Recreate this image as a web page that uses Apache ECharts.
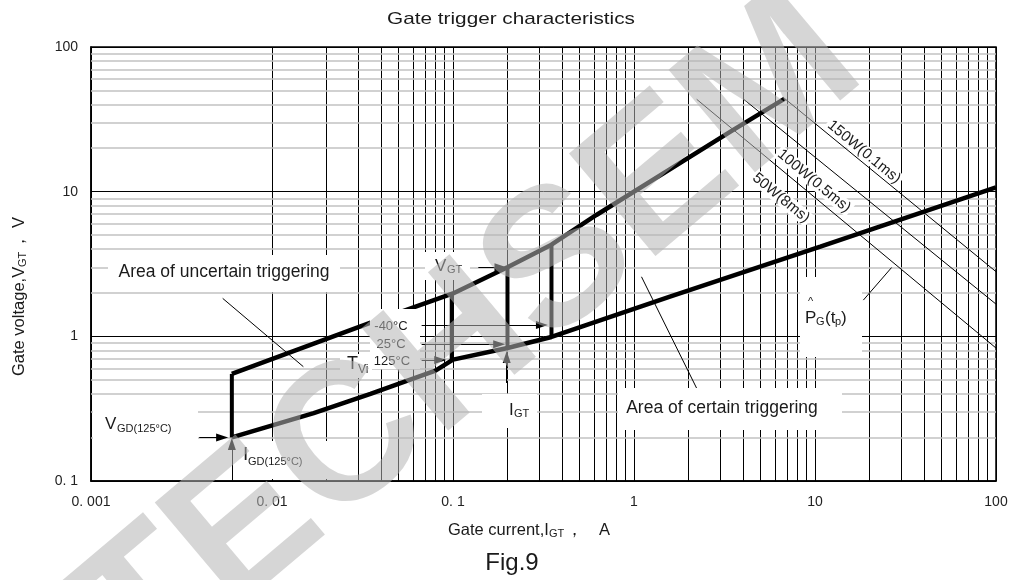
<!DOCTYPE html>
<html><head><meta charset="utf-8">
<script src="https://cdn.jsdelivr.net/npm/echarts@6/dist/echarts.min.js"></script>
<style>html,body{margin:0;padding:0;background:#fff}#c{width:1015px;height:580px}</style>
</head><body><div id="c"></div>
<script>
// ---- tick labels ----
const xTickLabels = ['0. 001','0. 01','0. 1','1','10','100'];
const yTickLabels = ['0. 1','1','10','100'];
const minorMult = [2,3,4,5,6,7,8,9];
const xDecades = [0.001,0.01,0.1,1,10];
const yDecades = [0.1,1,10];

// ---- curves (I_GT [A], V_GT [V]) ----
const lowerBoundary = [[0.006,0.2],[0.017,0.295],[0.035,0.40],[0.08,0.58],[0.1,0.69],[0.2,0.83],[0.35,0.99],[1.58,1.88],[10.7,4.17],[100,10.7]];
const upperBoundary = [[0.006,0.55],[0.036,1.26],[0.1,1.98],[0.2,3.0],[0.35,4.3],[0.62,6.9],[3.5,26.5],[6.8,44]];
const igdLine = [[0.006,0.2],[0.006,0.55]];
const igt125 = [[0.0984,0.686],[0.0984,1.98]];
const igt25 = [[0.2,0.83],[0.2,3.0]];
const igtM40 = [[0.35,0.99],[0.35,4.3]];
const p50W = [[2.22,43.5],[100,0.83]];
const p100W = [[4.04,43.5],[100,1.67]];
const p150W = [[6.8,44],[100,2.8]];
const pointerUncertain = [[0.00534,1.83],[0.0149,0.617]];
const pointerCertain = [[1.10,2.58],[2.22,0.437]];
const pointerPG = [[18.5,1.78],[26.5,2.99]];
// arrows: [from, to]
const arrows = [
  [[0.00396,0.2],[0.0053,0.2]],
  [[0.006,0.101],[0.006,0.18]],
  [[0.138,3.0],[0.183,3.0]],
  [[0.198,0.476],[0.198,0.72]],
  [[0.0671,1.2],[0.31,1.2]],
  [[0.0671,0.88],[0.18,0.88]],
  [[0.0671,0.686],[0.085,0.686]]
];

const chart = echarts.init(document.getElementById('c'));
const FONT = '"Liberation Sans", Arial, sans-serif';

const vMinor = [], hMinor = [];
xDecades.forEach(d => minorMult.forEach(m => vMinor.push({xAxis: +(d*m).toPrecision(6), lineStyle:{color:'#000', width:1, type:'solid'}})));
yDecades.forEach(d => minorMult.forEach(m => hMinor.push({yAxis: +(d*m).toPrecision(6), lineStyle:{color:'#c2c2c2', width:1.5, type:'solid'}})));

function curve(data, w){ return {type:'line', data, symbol:'none', silent:true, z:5, animation:false,
  lineStyle:{color:'#000', width:w}}; }

function T(text, x, y, size, o){
  o = o || {};
  return {type:'text', x, y, rotation: o.rot || 0, scaleX: o.sx || 1, z: o.z || 60,
    style:{text, font: (o.bold?'bold ':'') + size + 'px ' + (o.family || FONT), fill: o.fill || '#1a1a1a',
      textAlign: o.align || 'left', align: o.align || 'left',
      textVerticalAlign: 'middle', verticalAlign: 'middle',
      backgroundColor: o.bg, padding: o.pad}};
}
function box(x, y, w, h){ return {type:'rect', z:50, shape:{x, y, width:w, height:h}, style:{fill:'#fff'}}; }
const R90 = Math.PI/2;

const option = {
  backgroundColor:'#fff',
  animation:false,
  grid:{left:91, right:19, top:47, bottom:99, show:true, borderColor:'#000', borderWidth:1.5, backgroundColor:'#fff'},
  xAxis:{type:'log', logBase:10, min:0.001, max:100,
    axisLine:{lineStyle:{color:'#000', width:1.5}}, axisTick:{show:false},
    splitLine:{show:true, lineStyle:{color:'#000', width:1}},
    axisLabel:{color:'#222', fontSize:14, fontFamily:FONT, margin:14,
      formatter: v => xTickLabels[Math.round(Math.log10(v)) + 3] || ''}},
  yAxis:{type:'log', logBase:10, min:0.1, max:100,
    axisLine:{lineStyle:{color:'#000', width:1.5}}, axisTick:{show:false},
    splitLine:{show:true, lineStyle:{color:'#000', width:1}},
    axisLabel:{color:'#222', fontSize:14, fontFamily:FONT, margin:13,
      formatter: v => yTickLabels[Math.round(Math.log10(v)) + 1] || ''}},
  series:[
    {type:'line', data:[], symbol:'none', z:1, silent:true,
      markLine:{silent:true, symbol:'none', animation:false, label:{show:false}, data: vMinor.concat(hMinor)}},
    curve(lowerBoundary, 4.5), curve(upperBoundary, 4.5), curve(igdLine, 4),
    curve(igt125, 4), curve(igt25, 4), curve(igtM40, 4),
    curve(p50W, 1), curve(p100W, 1), curve(p150W, 1),
    curve(pointerUncertain, 1), curve(pointerCertain, 1), curve(pointerPG, 1),
    {type:'line', data:[], symbol:'none', z:70, silent:true,
      markLine:{silent:true, animation:false, symbol:['none','triangle'], symbolSize:[8,12], label:{show:false},
        lineStyle:{color:'#000', width:1, type:'solid'},
        data: arrows.map(a => [{coord:a[0]},{coord:a[1]}])}}
  ],
  graphic:[
    box(108,255,232,37), box(618,388,224,42), box(425,252,45,28), box(482,394,55,34),
    box(93,405,105,40), box(237,441,90,38), box(370,309,50,60), box(340,354,32,24), box(800,277,62,80),
    T('Gate trigger characteristics', 511, 19, 17, {align:'center', sx:1.22}),
    T('Area of uncertain triggering', 224, 272, 17.5, {align:'center'}),
    T('Area of certain triggering', 722, 408, 17.5, {align:'center'}),
    T('V', 435, 266, 17), T('GT', 447, 270, 11),
    T('I', 509, 410, 17), T('GT', 514, 414, 11),
    T('V', 105, 424, 17), T('GD(125°C)', 117, 429, 11),
    T('I', 243, 455, 19), T('GD(125°C)', 248, 462, 11),
    T('T', 347, 364, 18), T('Vi', 358, 370, 12),
    T('-40°C', 391, 326, 13, {align:'center'}), T('25°C', 391, 344, 13, {align:'center'}), T('125°C', 392, 361, 13, {align:'center'}),
    T('^', 808, 302, 11), T('P', 805, 318, 17), T('G', 816, 322, 11), T('(t', 825, 318, 17), T('p', 835, 322, 11), T(')', 841, 318, 17),
    T('150W(0.1ms)', 864, 152, 15, {align:'center', rot:-0.69, bg:'#fff', pad:[0,2]}),
    T('100W(0.5ms)', 814, 181, 15, {align:'center', rot:-0.69, bg:'#fff', pad:[0,2]}),
    T('50W(8ms)', 781, 198, 15, {align:'center', rot:-0.69, bg:'#fff', pad:[0,2]}),
    T('Gate current,I', 448, 530, 16.5), T('GT', 549, 534, 11), T('，', 566, 530, 16.5), T('A', 599, 530, 16.5),
    T('Gate voltage,V', 19, 376, 16.5, {rot:R90}), T('GT', 23, 267, 11, {rot:R90}), T('，', 19, 250, 16.5, {rot:R90}), T('V', 19, 228, 16.5, {rot:R90}),
    T('Fig.9', 512, 563, 24, {align:'center'}),
    T('TECHSEM', 470, 342, 195, {align:'center', rot:0.70, bold:true, fill:'rgba(180,180,180,0.55)', z:100})
  ]
};
chart.setOption(option);
</script></body></html>
